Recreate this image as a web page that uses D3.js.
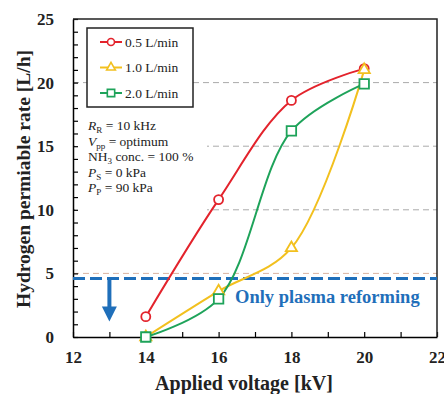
<!DOCTYPE html>
<html>
<head>
<meta charset="utf-8">
<script src="https://cdn.jsdelivr.net/npm/d3@7"></script>
<style>
  body { margin: 0; background: #fff; }
  svg text { font-family: "Times New Roman", "Liberation Serif", Tinos, "DejaVu Serif", serif; }
</style>
</head>
<body>
<div id="chart"></div>
<script>
// data
const voltages = [14, 16, 18, 20];
const rate05 = [1.6, 10.8, 18.6, 21.1];
const rate10 = [0, 3.6, 7.0, 21.0];
const rate20 = [0, 3.0, 16.2, 19.9];
const seriesNames = ['0.5 L/min', '1.0 L/min', '2.0 L/min'];
const xTicks = d3.range(12, 23, 1);
const yTicks = d3.range(0, 26, 1);
const gridValues = [5, 10, 15, 20];
const plasmaOnly = 4.6;
const arrowAt = 13;

const serif = '"Times New Roman", "Liberation Serif", Tinos, "DejaVu Serif", serif';
const width = 444;
const height = 394;
const margin = { top: 19, right: 7, bottom: 57, left: 73 };

const svg = d3.select('#chart')
  .append('svg')
  .attr('width', width)
  .attr('height', height);

const x = d3.scaleLinear().domain([12, 22]).range([margin.left, width - margin.right]);
const y = d3.scaleLinear().domain([0, 25]).range([height - margin.bottom, margin.top]);

// grid
svg.append('g')
  .selectAll('line')
  .data(gridValues)
  .enter()
  .append('line')
  .attr('x1', x(12))
  .attr('x2', x(22))
  .attr('y1', d => y(d))
  .attr('y2', d => y(d))
  .attr('stroke', d => d === 5 ? '#d9b3a0' : '#aaaaaa')
  .attr('stroke-width', 1)
  .attr('stroke-dasharray', '6,4');

// white box behind condition text
svg.append('rect')
  .attr('x', x(12) + 2)
  .attr('y', 112)
  .attr('width', 132)
  .attr('height', 104)
  .attr('fill', '#fff');

// axes
svg.append('g')
  .attr('transform', `translate(0,${y(0)})`)
  .call(d3.axisBottom(x).tickValues(xTicks).tickSizeInner(-5).tickSizeOuter(0).tickPadding(14)
    .tickFormat(d => d % 2 === 0 ? d : ''))
  .call(g => g.select('.domain').attr('stroke', '#000').attr('stroke-width', 1.5))
  .call(g => g.selectAll('.tick line').attr('stroke', '#000').attr('stroke-width', 1.2))
  .call(g => g.selectAll('text').attr('fill', '#222').style('font-size', '17px')
    .style('font-weight', 'bold').style('font-family', serif));

svg.append('g')
  .attr('transform', `translate(${x(12)},0)`)
  .call(d3.axisLeft(y).tickValues(yTicks).tickSizeInner(-5).tickSizeOuter(0).tickPadding(19)
    .tickFormat(d => d % 5 === 0 ? d : ''))
  .call(g => g.select('.domain').attr('stroke', '#000').attr('stroke-width', 1.5))
  .call(g => g.selectAll('.tick line').attr('stroke', '#000').attr('stroke-width', 1.2))
  .call(g => g.selectAll('text').attr('fill', '#222').style('font-size', '17px')
    .style('font-weight', 'bold').style('font-family', serif));

// top and right frame
svg.append('path')
  .attr('d', `M${x(12)},${y(25)}H${x(22)}V${y(0)}`)
  .attr('fill', 'none')
  .attr('stroke', '#222')
  .attr('stroke-width', 1.5);

// axis titles
svg.append('text')
  .attr('x', 244)
  .attr('y', 390)
  .attr('text-anchor', 'middle')
  .style('font-size', '20px')
  .style('font-weight', 'bold')
  .attr('fill', '#222')
  .text('Applied voltage [kV]');

svg.append('text')
  .attr('transform', `translate(30,179) rotate(-90)`)
  .attr('text-anchor', 'middle')
  .style('font-size', '19.5px')
  .style('font-weight', 'bold')
  .attr('fill', '#222')
  .text('Hydrogen permiable rate [L/h]');

// plasma-only threshold
const blue = '#1f6fba';
svg.append('line')
  .attr('x1', x(12))
  .attr('x2', x(22))
  .attr('y1', y(plasmaOnly))
  .attr('y2', y(plasmaOnly))
  .attr('stroke', blue)
  .attr('stroke-width', 3)
  .attr('stroke-dasharray', '12,5');

const ax = x(arrowAt);
const ay0 = y(plasmaOnly);
const tip = ay0 + 43;
svg.append('line')
  .attr('x1', ax).attr('x2', ax)
  .attr('y1', ay0).attr('y2', tip - 12)
  .attr('stroke', blue)
  .attr('stroke-width', 4);
svg.append('path')
  .attr('d', `M${ax - 7.5},${tip - 15}L${ax + 7.5},${tip - 15}L${ax},${tip}Z`)
  .attr('fill', blue);

svg.append('text')
  .attr('x', 235)
  .attr('y', 303)
  .style('font-size', '18.5px')
  .style('font-weight', 'bold')
  .attr('fill', blue)
  .text('Only plasma reforming');

// series
const series = [
  { name: seriesNames[0], values: rate05, color: '#e3232c', shape: 'circle' },
  { name: seriesNames[1], values: rate10, color: '#f2c01e', shape: 'triangle' },
  { name: seriesNames[2], values: rate20, color: '#1ea35a', shape: 'square' }
];

const line = d3.line()
  .x((d, i) => x(voltages[i]))
  .y(d => y(d))
  .curve(d3.curveCatmullRom.alpha(0.5));

const symbolType = { circle: d3.symbolCircle, triangle: d3.symbolTriangle, square: d3.symbolSquare };
const symbolSize = { circle: 64, triangle: 55, square: 90 };

series.forEach(s => {
  svg.append('path')
    .datum(s.values)
    .attr('fill', 'none')
    .attr('stroke', s.color)
    .attr('stroke-width', 2)
    .attr('d', line);
});

series.forEach(s => {
  svg.append('g')
    .selectAll('path')
    .data(s.values)
    .enter()
    .append('path')
    .attr('transform', (d, i) => `translate(${x(voltages[i])},${y(d)})`)
    .attr('d', d3.symbol().type(symbolType[s.shape]).size(symbolSize[s.shape]))
    .attr('fill', '#fff')
    .attr('stroke', s.color)
    .attr('stroke-width', 1.8);
});

// legend
const legend = svg.append('g');
legend.append('rect')
  .attr('x', 87).attr('y', 28)
  .attr('width', 106).attr('height', 79)
  .attr('fill', '#fff')
  .attr('stroke', '#222')
  .attr('stroke-width', 1.5);

series.forEach((s, i) => {
  const ly = 42 + i * 25.5;
  legend.append('line')
    .attr('x1', 100).attr('x2', 122)
    .attr('y1', ly).attr('y2', ly)
    .attr('stroke', s.color).attr('stroke-width', 2);
  legend.append('path')
    .attr('transform', `translate(111,${ly})`)
    .attr('d', d3.symbol().type(symbolType[s.shape]).size(symbolSize[s.shape] * 0.6))
    .attr('fill', '#fff')
    .attr('stroke', s.color)
    .attr('stroke-width', 1.6);
  legend.append('text')
    .attr('x', 125).attr('y', ly + 4.5)
    .style('font-size', '13.5px')
    .attr('fill', '#222')
    .text(s.name);
});

// condition text
const conds = [
  [['R', 'i'], ['R', 'sub'], [' = 10 kHz', '']],
  [['V', 'i'], ['pp', 'sub'], [' = optimum', '']],
  [['NH', ''], ['3', 'sub'], [' conc. = 100 %', '']],
  [['P', 'i'], ['S', 'sub'], [' = 0 kPa', '']],
  [['P', 'i'], ['P', 'sub'], [' = 90 kPa', '']]
];
conds.forEach((parts, i) => {
  const t = svg.append('text')
    .attr('x', 88)
    .attr('y', 130 + i * 15.5)
    .style('font-size', '13.5px')
    .attr('fill', '#222');
  parts.forEach(([txt, kind], j) => {
    const ts = t.append('tspan').text(txt);
    if (kind === 'i') ts.style('font-style', 'italic');
    if (kind === 'sub') ts.attr('dy', 3).style('font-size', '9px');
    if (kind === '' && j > 0 && parts[j - 1][1] === 'sub') ts.attr('dy', -3);
  });
});
</script>
</body>
</html>
